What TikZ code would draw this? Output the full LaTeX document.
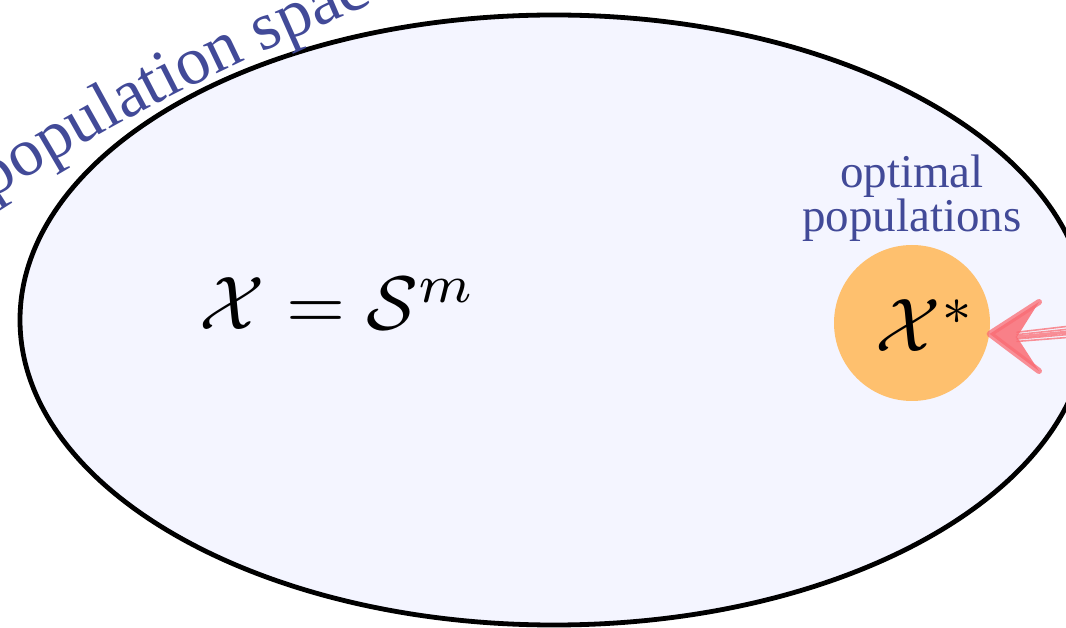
\documentclass[tikz,border=0pt]{standalone}
\usepackage{fontspec}
\newfontfamily\labelfont{Liberation Serif}
\usetikzlibrary{decorations.text}
\definecolor{spacefill}{RGB}{244,245,255}
\definecolor{labelblue}{RGB}{66,74,152}
\definecolor{optorange}{RGB}{254,192,110}
\definecolor{arrowred}{RGB}{250,108,116}

\begin{document}
\begin{tikzpicture}[x=0.5pt,y=0.5pt,
    label text/.style={text=labelblue,font=\labelfont\fontsize{23.5}{17}\selectfont,align=center,inner sep=0pt},
    big math/.style={scale=3.8,transform shape,inner sep=0pt},
    sketch/.style={arrowred,line cap=round,line join=round,opacity=0.75}]
    \useasboundingbox (0,0) rectangle (1066,627);
    \clip (0,0) rectangle (1066,627);
    \draw[line width=2.4pt,fill=spacefill] (554,307) ellipse [x radius=534,y radius=305];
    \path[decorate,decoration={text along path,text color=labelblue,
        text={|\labelfont\fontsize{34}{34}\selectfont|population space}}]
        (-8,427) .. controls (118,509) and (280,592) .. (500,672);

    \node[big math,anchor=base] (space) at (338,297) {$\mathcal{X}=\mathcal{S}^m$};
    \node[circle,fill=optorange,minimum size=78pt,inner sep=0pt] (opt) at (912,304) {};
    \node[big math,anchor=base] (xstar) at (926,275) {$\mathcal{X}^*$};
    \node[label text,anchor=base] (optlabel) at (912,395) {optimal\\populations};

    % sketchy arrow
    \coordinate (tail) at (1090,297);
    \coordinate (barbup) at (1039,325);
    \coordinate (notch) at (1017,290);
    \coordinate (barbdown) at (1039,256);
    \fill[arrowred,opacity=0.85] (opt.-8) -- (barbup) -- (notch) -- (barbdown) -- cycle;
    \draw[sketch,line width=3pt] (barbup) -- (opt.-8) -- (barbdown);
    \draw[sketch,line width=1.6pt] (notch) -- (tail);
    \foreach \d in {-2.2,-1,1.2,2.4}
        \draw[sketch,line width=0.8pt] ([yshift=\d pt]notch) -- ([yshift=1.3*\d pt]tail);
\end{tikzpicture}
\end{document}
